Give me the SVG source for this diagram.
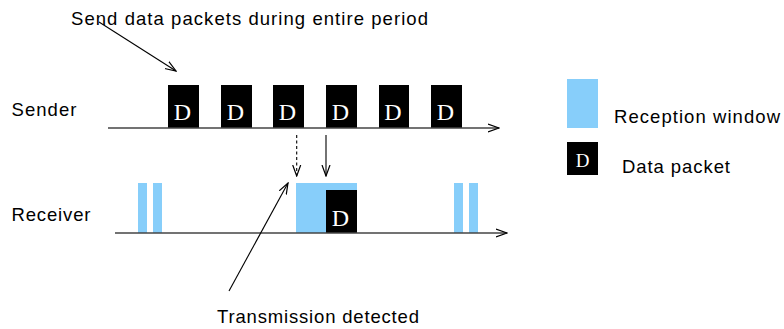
<svg xmlns="http://www.w3.org/2000/svg" width="784" height="329" viewBox="0 0 784 329">
<style>
.lbl{font-family:"Liberation Sans",Arial,sans-serif;font-size:18.5px;fill:#000}
.d{font-family:"Liberation Serif","Times New Roman",serif;font-size:24px;fill:#fff;text-anchor:middle}
.pk{fill:#000}
.rw{fill:#87CEFA}
.axis{stroke:#444;stroke-width:1.3;fill:none}
.ptr{stroke:#000;stroke-width:1.1;fill:none}
</style>
<defs>
<marker id="ah" viewBox="0 0 12 10" refX="11" refY="5" markerWidth="12" markerHeight="10" markerUnits="userSpaceOnUse" orient="auto">
<path d="M0,1 L11,5 L0,9" fill="none" stroke="#000" stroke-width="1.2"/>
</marker>
</defs>
<rect width="784" height="329" fill="#fff"/>

<g id="title"><text class="lbl" x="71" y="25" textLength="357" lengthAdjust="spacing">Send data packets during entire period</text></g>
<g id="sender-label"><text class="lbl" x="11.5" y="116" textLength="65" lengthAdjust="spacing">Sender</text></g>
<g id="receiver-label"><text class="lbl" x="11.5" y="221" textLength="79" lengthAdjust="spacing">Receiver</text></g>
<g id="transmission-label"><text class="lbl" x="217" y="323" textLength="202" lengthAdjust="spacing">Transmission detected</text></g>

<g id="sender-packets">
<g id="sp1"><rect class="pk" x="168" y="85" width="31" height="43"/><text class="d" x="182.5" y="120">D</text></g>
<g id="sp2"><rect class="pk" x="221" y="85" width="31" height="43"/><text class="d" x="235.5" y="120">D</text></g>
<g id="sp3"><rect class="pk" x="273" y="85" width="31" height="43"/><text class="d" x="287.5" y="120">D</text></g>
<g id="sp4"><rect class="pk" x="326" y="85" width="31" height="43"/><text class="d" x="340.5" y="120">D</text></g>
<g id="sp5"><rect class="pk" x="379" y="85" width="30" height="43"/><text class="d" x="393" y="120">D</text></g>
<g id="sp6"><rect class="pk" x="431" y="85" width="31" height="43"/><text class="d" x="445.5" y="120">D</text></g>
</g>

<g id="receiver-windows">
<rect class="rw" x="138" y="183" width="9" height="50"/>
<rect class="rw" x="153" y="183" width="9" height="50"/>
<rect class="rw" x="296" y="183" width="61" height="50"/>
<rect class="rw" x="454" y="183" width="9" height="50"/>
<rect class="rw" x="469" y="183" width="9" height="50"/>
</g>
<g id="receiver-packet"><rect class="pk" x="326" y="190" width="31" height="43"/><text class="d" x="340.5" y="226">D</text></g>

<g id="legend">
<g id="legend-window"><rect class="rw" x="567" y="79" width="31" height="49"/><text class="lbl" x="614" y="122.5" textLength="166" lengthAdjust="spacing">Reception window</text></g>
<g id="legend-packet"><rect class="pk" x="567" y="142" width="31" height="33"/><text class="d" x="582.5" y="167" style="font-size:19px">D</text><text class="lbl" x="622" y="173" textLength="108" lengthAdjust="spacing">Data packet</text></g>
</g>

<g id="connectors">
<line class="axis" x1="108" y1="128" x2="499" y2="128" marker-end="url(#ah)"/>
<line class="axis" x1="115" y1="233" x2="507" y2="233" marker-end="url(#ah)"/>
<line class="ptr" x1="99" y1="22" x2="176" y2="71" marker-end="url(#ah)"/>
<line class="ptr" x1="296.7" y1="135" x2="296.7" y2="176" stroke-dasharray="3,2.5" marker-end="url(#ah)"/>
<line class="ptr" x1="326" y1="135" x2="326" y2="176" marker-end="url(#ah)"/>
<line class="ptr" x1="229" y1="291" x2="288" y2="183" marker-end="url(#ah)"/>
</g>
</svg>
